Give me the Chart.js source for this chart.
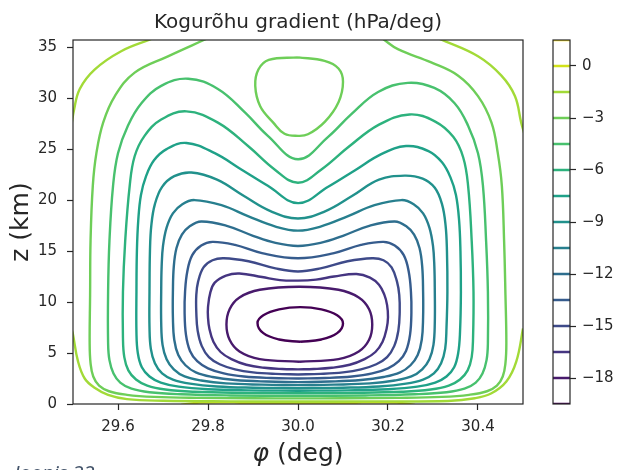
<!DOCTYPE html>
<html>
<head>
<meta charset="utf-8">
<script src="https://cdn.jsdelivr.net/npm/chart.js@4/dist/chart.umd.min.js"></script>
<style>
  html, body { margin: 0; padding: 0; background: #fff; }
  #wrap { position: relative; width: 619px; height: 470px; overflow: hidden; }
  #wrap canvas { position: absolute; left: 0; top: 0; }
  #caption { position: absolute; left: 14px; top: 459px; line-height: 20px;
             font: italic 20px "Noto Sans", sans-serif; color: #44546a; white-space: nowrap; }
</style>
</head>
<body>
<div id="wrap">
  <canvas id="main" width="619" height="470"></canvas>
  <canvas id="cbar" width="619" height="470"></canvas>
  <div id="caption">Joonis 32</div>
</div>
<script>
// axis ticks
const phiTicks = [29.6, 29.8, 30.0, 30.2, 30.4];
const zTicks = [0, 5, 10, 15, 20, 25, 30, 35];
const barTicks = [0, -3, -6, -9, -12, -15, -18];

// contour levels (hPa/deg)
const levels = [-19.5, -18, -16.5, -15, -13.5, -12, -10.5, -9, -7.5, -6, -4.5, -3, -1.5, 0, 1.5];

// contour paths, [phi (deg), z (km)]
const c195 = [[30.005,6.1],[30.052,6.33],[30.087,6.95],[30.1,7.9],[30.087,8.7],[30.052,9.28],[30.005,9.5],[29.958,9.28],[29.923,8.7],[29.91,7.95],[29.923,6.95],[29.958,6.33],[30.005,6.1]];
const c180 = [[30.003,4.15],[30.09,4.4],[30.135,5.15],[30.158,6.3],[30.165,7.8],[30.158,9.3],[30.135,10.45],[30.09,11.2],[30.003,11.5],[29.915,11.2],[29.87,10.45],[29.848,9.3],[29.841,7.8],[29.848,6.3],[29.87,5.15],[29.915,4.4],[30.003,4.15]];
const c165 = [[30.0,3.4],[30.035,3.43],[30.075,3.55],[30.115,3.85],[30.148,4.4],[30.172,5.1],[30.188,6.1],[30.197,7.4],[30.2,8.5],[30.198,9.7],[30.192,10.7],[30.18,11.7],[30.16,12.4],[30.13,12.75],[30.08,12.5],[30.04,12.2],[30.0,12.1],[29.96,12.15],[29.92,12.45],[29.87,12.8],[29.84,12.6],[29.815,11.9],[29.805,10.9],[29.8,9.5],[29.8,8.5],[29.803,7.4],[29.812,6.1],[29.828,5.1],[29.852,4.4],[29.885,3.85],[29.925,3.55],[29.965,3.43],[30.0,3.4]];
const c150 = [[30.0,2.9],[30.05,2.95],[30.1,3.1],[30.14,3.4],[30.174,3.9],[30.198,4.6],[30.214,5.7],[30.223,7.2],[30.226,9.0],[30.225,10.7],[30.22,12.0],[30.208,13.4],[30.19,14.1],[30.165,14.3],[30.11,14.0],[30.05,13.3],[30.0,13.0],[29.95,13.3],[29.89,14.0],[29.835,14.3],[29.81,14.1],[29.79,13.4],[29.778,12.0],[29.774,10.7],[29.774,9.0],[29.777,7.2],[29.786,5.7],[29.802,4.6],[29.826,3.9],[29.86,3.4],[29.9,3.1],[29.95,2.95],[30.0,2.9]];
const c135 = [[30.0,2.5],[30.06,2.55],[30.12,2.7],[30.165,3.0],[30.2,3.5],[30.224,4.2],[30.24,5.2],[30.249,6.8],[30.252,9.0],[30.251,11.0],[30.246,13.0],[30.235,14.6],[30.215,15.55],[30.19,15.9],[30.14,15.6],[30.08,14.8],[30.0,14.3],[29.92,14.8],[29.86,15.6],[29.81,15.9],[29.785,15.55],[29.765,14.6],[29.754,13.0],[29.749,11.0],[29.748,9.0],[29.751,6.8],[29.76,5.2],[29.776,4.2],[29.8,3.5],[29.835,3.0],[29.88,2.7],[29.94,2.55],[30.0,2.5]];
const c120 = [[30.0,2.15],[30.07,2.2],[30.14,2.35],[30.19,2.65],[30.227,3.1],[30.25,3.8],[30.266,4.8],[30.275,6.3],[30.278,8.5],[30.278,11.0],[30.276,13.5],[30.27,15.3],[30.258,16.6],[30.24,17.45],[30.215,17.9],[30.16,17.5],[30.1,16.5],[30.05,15.8],[30.0,15.5],[29.95,15.8],[29.9,16.5],[29.84,17.5],[29.785,17.9],[29.76,17.45],[29.742,16.6],[29.73,15.3],[29.724,13.5],[29.722,11.0],[29.722,8.5],[29.725,6.3],[29.734,4.8],[29.75,3.8],[29.773,3.1],[29.81,2.65],[29.86,2.35],[29.93,2.2],[30.0,2.15]];
const c105 = [[30.0,1.85],[30.08,1.9],[30.16,2.02],[30.215,2.3],[30.252,2.7],[30.276,3.4],[30.292,4.4],[30.301,5.8],[30.304,8.0],[30.304,11.0],[30.303,13.5],[30.3,15.5],[30.292,17.3],[30.278,18.7],[30.257,19.6],[30.23,20.0],[30.17,19.5],[30.11,18.4],[30.05,17.4],[30.0,17.0],[29.95,17.4],[29.89,18.4],[29.83,19.5],[29.77,20.0],[29.743,19.6],[29.722,18.7],[29.708,17.3],[29.7,15.5],[29.697,13.5],[29.696,11.0],[29.696,8.0],[29.699,5.8],[29.708,4.4],[29.724,3.4],[29.748,2.7],[29.785,2.3],[29.84,2.02],[29.92,1.9],[30.0,1.85]];
const c090 = [[30.0,1.55],[30.1,1.6],[30.18,1.72],[30.24,2.0],[30.278,2.4],[30.302,3.0],[30.318,4.0],[30.327,5.4],[30.33,7.5],[30.332,11.0],[30.331,15.0],[30.328,17.5],[30.32,19.6],[30.304,21.2],[30.277,22.1],[30.237,22.4],[30.18,22.0],[30.12,20.4],[30.06,18.9],[30.0,18.2],[29.94,18.9],[29.88,20.4],[29.82,22.0],[29.763,22.7],[29.725,22.35],[29.698,21.3],[29.682,19.6],[29.674,17.5],[29.671,15.0],[29.67,11.0],[29.67,7.5],[29.673,5.4],[29.682,4.0],[29.698,3.0],[29.722,2.4],[29.76,2.0],[29.82,1.72],[29.9,1.6],[30.0,1.55]];
const c075 = [[30.0,1.3],[30.11,1.34],[30.2,1.45],[30.265,1.7],[30.305,2.1],[30.33,2.7],[30.347,3.6],[30.356,5.0],[30.36,7.0],[30.362,11.0],[30.361,15.0],[30.358,18.0],[30.351,20.5],[30.339,22.2],[30.32,23.7],[30.29,24.8],[30.24,25.3],[30.185,24.5],[30.126,22.9],[30.067,21.3],[30.0,19.7],[29.933,21.4],[29.874,23.0],[29.815,24.6],[29.752,25.6],[29.708,25.0],[29.68,23.9],[29.662,22.3],[29.651,20.5],[29.645,18.0],[29.642,15.0],[29.641,11.0],[29.641,7.0],[29.644,5.0],[29.653,3.6],[29.67,2.7],[29.695,2.1],[29.735,1.7],[29.8,1.45],[29.89,1.34],[30.0,1.3]];
const c060 = [[30.0,1.05],[30.13,1.09],[30.23,1.2],[30.295,1.42],[30.335,1.8],[30.36,2.4],[30.377,3.3],[30.386,4.6],[30.389,6.5],[30.39,11.0],[30.386,16.0],[30.378,21.4],[30.367,24.2],[30.345,26.2],[30.305,27.7],[30.248,28.4],[30.18,27.4],[30.112,25.2],[30.052,23.0],[30.0,21.7],[29.948,23.0],[29.889,25.3],[29.822,27.6],[29.752,28.7],[29.696,27.9],[29.659,26.3],[29.637,24.3],[29.626,21.4],[29.616,16.0],[29.611,11.0],[29.611,6.5],[29.614,4.6],[29.623,3.3],[29.64,2.4],[29.665,1.8],[29.705,1.42],[29.77,1.2],[29.87,1.09],[30.0,1.05]];
const c045 = [[30.0,0.8],[30.15,0.84],[30.26,0.95],[30.33,1.15],[30.37,1.5],[30.395,2.1],[30.41,3.0],[30.419,4.3],[30.422,6.0],[30.422,11.0],[30.418,16.0],[30.411,21.4],[30.4,24.6],[30.378,27.3],[30.348,29.5],[30.303,31.0],[30.244,31.5],[30.178,30.6],[30.118,28.4],[30.067,26.2],[30.0,24.0],[29.933,26.3],[29.882,28.6],[29.822,30.9],[29.756,31.9],[29.696,31.2],[29.652,29.5],[29.622,27.3],[29.6,24.6],[29.589,21.4],[29.581,16.0],[29.578,11.0],[29.578,6.0],[29.581,4.3],[29.59,3.0],[29.605,2.1],[29.63,1.5],[29.67,1.15],[29.74,0.95],[29.85,0.84],[30.0,0.8]];
const c030 = [[29.796,35.8],[29.711,34.1],[29.637,32.5],[29.593,30.2],[29.567,27.6],[29.552,24.6],[29.544,21.4],[29.539,16.0],[29.538,10.7],[29.537,6.0],[29.539,4.0],[29.545,2.7],[29.558,1.8],[29.58,1.25],[29.62,0.9],[29.68,0.7],[29.78,0.6],[29.9,0.56],[30.0,0.55],[30.1,0.56],[30.22,0.6],[30.32,0.7],[30.38,0.9],[30.42,1.25],[30.442,1.8],[30.455,2.7],[30.461,4.0],[30.463,6.0],[30.461,10.7],[30.458,16.0],[30.453,21.4],[30.444,24.6],[30.43,27.6],[30.4,30.2],[30.356,32.2],[30.296,33.5],[30.222,34.8],[30.189,35.8]];
const c030top = [[30.0,34.0],[30.059,33.65],[30.09,32.9],[30.1,31.6],[30.09,29.6],[30.06,27.7],[30.022,26.45],[30.0,26.3],[29.97,26.5],[29.945,27.6],[29.916,29.2],[29.905,31.2],[29.912,32.8],[29.935,33.75],[30.0,34.0]];
const c015left = [[29.674,35.8],[29.607,34.6],[29.548,32.8],[29.515,30.9],[29.502,28.8],[29.497,27.5]];
const c015right = [[30.315,35.8],[30.4,34.1],[30.452,32.2],[30.482,30.2],[30.496,27.6],[30.503,26.5]];
const c015low = [[29.497,7.3],[29.5,6.8],[29.511,4.2],[29.526,2.5],[29.548,1.6],[29.578,0.9],[29.62,0.48],[29.7,0.32],[29.85,0.26],[30.0,0.25],[30.15,0.26],[30.333,0.3],[30.393,0.56],[30.43,1.05],[30.463,2.2],[30.485,4.15],[30.5,7.4],[30.502,8.0]];
const c000 = [[29.74,-0.1],[29.78,0.13],[29.85,0.17],[30.0,0.17],[30.15,0.17],[30.22,0.13],[30.26,-0.1]];
const cp15 = [[29.86,-0.1],[29.89,0.07],[30.0,0.08],[30.11,0.07],[30.14,-0.1]];

const pieces = [
  [-19.5, c195], [-18, c180], [-16.5, c165], [-15, c150], [-13.5, c135],
  [-12, c120], [-10.5, c105], [-9, c090], [-7.5, c075], [-6, c060], [-4.5, c045],
  [-3, c030], [-3, c030top], [-1.5, c015left], [-1.5, c015right], [-1.5, c015low],
  [0, c000], [1.5, cp15]
];

// viridis, one colour per level
const viridis = ['#440154','#481a6c','#453581','#3e4a89','#365c8d','#2e6e8e','#277f8e',
                 '#21918c','#1fa188','#2db27d','#48c16e','#6ece58','#a2da37','#d2e21b','#fde725'];
const colorOf = v => viridis[levels.indexOf(v)];

const FONT = '"DejaVu Sans", sans-serif';
const INK = '#262626';

const frame = {
  id: 'frame',
  afterDatasetsDraw(chart) {
    const { ctx, chartArea: a } = chart;
    ctx.save();
    ctx.strokeStyle = INK;
    ctx.lineWidth = 1.2;
    ctx.strokeRect(a.left, a.top, a.right - a.left, a.bottom - a.top);
    ctx.restore();
  }
};

const captions = {
  id: 'captions',
  afterDraw(chart) {
    const { ctx, chartArea: a } = chart;
    const cx = (a.left + a.right) / 2;
    ctx.save();
    ctx.fillStyle = INK;
    ctx.textBaseline = 'alphabetic';
    ctx.textAlign = 'center';
    ctx.font = '20px ' + FONT;
    ctx.fillText('Kogurõhu gradient (hPa/deg)', cx, 28);

    // x label: italic phi followed by the unit
    const sym = 'φ', rest = ' (deg)';
    ctx.font = 'italic 25px ' + FONT;
    const w1 = ctx.measureText(sym).width;
    ctx.font = '25px ' + FONT;
    const w2 = ctx.measureText(rest).width;
    const x0 = cx - (w1 + w2) / 2;
    ctx.textAlign = 'left';
    ctx.font = 'italic 25px ' + FONT;
    ctx.fillText(sym, x0, 461);
    ctx.font = '25px ' + FONT;
    ctx.fillText(rest, x0 + w1, 461);

    ctx.translate(28, (a.top + a.bottom) / 2);
    ctx.rotate(-Math.PI / 2);
    ctx.textAlign = 'center';
    ctx.fillText('z (km)', 0, 0);
    ctx.restore();
  }
};

const tickFont = { family: FONT, size: 15 };

new Chart(document.getElementById('main'), {
  type: 'scatter',
  data: {
    datasets: pieces.map(([lv, pts]) => ({
      data: pts,
      showLine: true,
      borderColor: colorOf(lv),
      borderWidth: 2.4,
      pointRadius: 0,
      tension: 0.4,
      clip: 0
    }))
  },
  options: {
    responsive: false,
    animation: false,
    devicePixelRatio: 1,
    events: [],
    layout: { padding: { left: 0, right: 96, top: 40, bottom: 0 } },
    plugins: { legend: { display: false }, tooltip: { enabled: false } },
    scales: {
      x: {
        type: 'linear', min: 29.5, max: 30.5,
        afterBuildTicks: s => { s.ticks = phiTicks.map(v => ({ value: v })); },
        afterFit: s => { s.height = 66; },
        border: { display: false },
        grid: { drawOnChartArea: false, drawTicks: true, tickLength: 6, tickColor: INK, tickWidth: 1.2 },
        ticks: { font: tickFont, color: INK, padding: 8, maxRotation: 0, autoSkip: false,
                 callback: v => Number(v).toFixed(1) }
      },
      y: {
        type: 'linear', min: 0, max: 35.7,
        afterBuildTicks: s => { s.ticks = zTicks.map(v => ({ value: v })); },
        afterFit: s => { s.width = 73; },
        border: { display: false },
        grid: { drawOnChartArea: false, drawTicks: true, tickLength: 6, tickColor: INK, tickWidth: 1.2 },
        ticks: { font: tickFont, color: INK, padding: 10, autoSkip: false,
                 callback: v => String(v) }
      }
    }
  },
  plugins: [frame, captions]
});

// colour bar: one short line per level
new Chart(document.getElementById('cbar'), {
  type: 'scatter',
  data: {
    datasets: levels.map(lv => ({
      data: [[0, lv], [1, lv]],
      showLine: true,
      borderColor: colorOf(lv),
      borderWidth: 2.5,
      pointRadius: 0,
      clip: 0
    }))
  },
  options: {
    responsive: false,
    animation: false,
    devicePixelRatio: 1,
    events: [],
    layout: { padding: { left: 553, right: 0, top: 40, bottom: 66 } },
    plugins: { legend: { display: false }, tooltip: { enabled: false } },
    scales: {
      x: { type: 'linear', min: 0, max: 1, display: false },
      y: {
        type: 'linear', position: 'right', min: -19.5, max: 1.5,
        afterBuildTicks: s => { s.ticks = barTicks.map(v => ({ value: v })); },
        afterFit: s => { s.width = 49; },
        border: { display: false },
        grid: { drawOnChartArea: false, drawTicks: true, tickLength: 6, tickColor: INK, tickWidth: 1.2 },
        ticks: { font: tickFont, color: INK, padding: 6, autoSkip: false,
                 callback: v => v < 0 ? '\u2212' + Math.abs(v) : String(v) }
      }
    }
  },
  plugins: [frame]
});
</script>
</body>
</html>
